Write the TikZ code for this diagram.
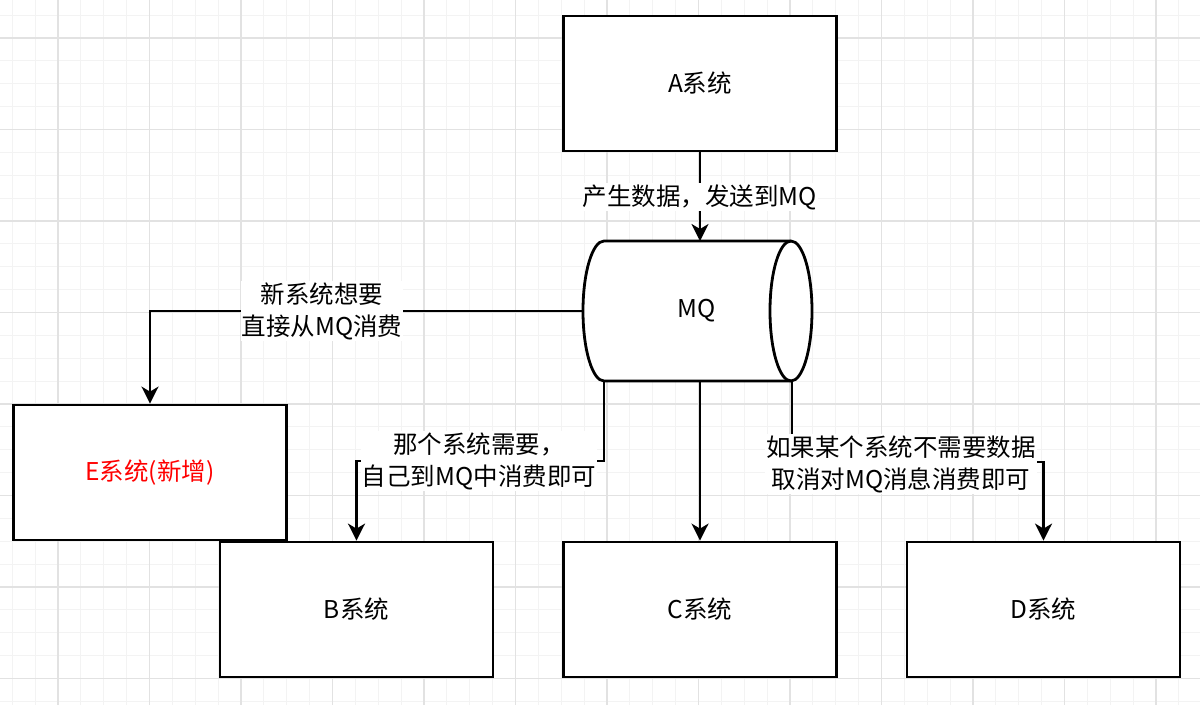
\documentclass[tikz,border=0pt]{standalone}
\usepackage{fontspec}
\setmainfont{Noto Sans CJK SC}
\usetikzlibrary{arrows.meta}
\definecolor{gridmajor}{HTML}{E2E2E2}
\definecolor{gridminor}{HTML}{F3F3F3}
\tikzset{
  sysbox/.style={draw, line width=2.8pt, fill=white, minimum width=273pt, minimum height=135pt, inner sep=0pt},
  lbl/.style={fill=white, inner sep=1pt, align=center},
  conn/.style={line width=2.6pt, -{Stealth[length=17pt,width=17pt,inset=5pt]}},
  txt/.style={font=\fontsize{24.5pt}{32pt}\selectfont}
}
\begin{document}
\begin{tikzpicture}[x=1pt,y=-1pt,every node/.style={txt}]
\useasboundingbox (0,0) rectangle (1200,705);
\fill[white] (0,0) rectangle (1200,705);
% grid
\foreach \i in {0,...,52} {\draw[gridminor,line width=1.2pt] ({12.25+22.875*\i},0) -- ({12.25+22.875*\i},705);}
\foreach \j in {0,...,30} {\draw[gridminor,line width=1.2pt] (0,{15.125+22.875*\j}) -- (1200,{15.125+22.875*\j});}
\foreach \i in {0,...,12} {\draw[gridmajor,line width=1.6pt] ({58+91.5*\i},0) -- ({58+91.5*\i},705);}
\foreach \j in {0,...,7} {\draw[gridmajor,line width=1.6pt] (0,{38+91.5*\j}) -- (1200,{38+91.5*\j});}

% boxes
\node[sysbox] (a) at (700,83.5) {A系统};
\node[sysbox,text=red] (e) at (150,472.5) {E系统(新增)};
\node[sysbox] (b) at (356.5,609.5) {B系统};
\node[sysbox] (c) at (700,609.5) {C系统};
\node[sysbox] (d) at (1043.5,609.5) {D系统};

% MQ cylinder
\filldraw[fill=white,line width=2.8pt] (791,241) -- (604,241)
  arc[start angle=90,end angle=270,x radius=21pt,y radius=70pt]
  -- (791,381)
  arc[start angle=270,end angle=450,x radius=21pt,y radius=70pt] -- cycle;
\draw[line width=2.8pt] (791,241) arc[start angle=90,end angle=270,x radius=21pt,y radius=70pt];
\node (mq) at (697,311) {MQ};
\coordinate (mqn) at (700,241);
\coordinate (mqw) at (583,311);
\coordinate (mqb) at (604,381);
\coordinate (mqc) at (700,381);
\coordinate (mqd) at (792,381);

% connectors
\draw[conn] (a.south) -- (mqn);
\draw[conn] (mqw) -| (e.north);
\draw[conn] (mqb) -- ++(0,80) -| (b.north);
\draw[conn] (mqc) -- (c.north);
\draw[conn] (mqd) -- ++(0,81) -| (d.north);

% labels
\node[lbl] (la) at (700,197) {产生数据，发送到MQ};
\node[lbl] (le) at (322,311) {新系统想要\\直接从MQ消费};
\node[lbl] (lb) at (479,461) {那个系统需要，\\自己到MQ中消费即可};
\node[lbl] (ld) at (901,464) {如果某个系统不需要数据\\取消对MQ消息消费即可};
\end{tikzpicture}
\end{document}
